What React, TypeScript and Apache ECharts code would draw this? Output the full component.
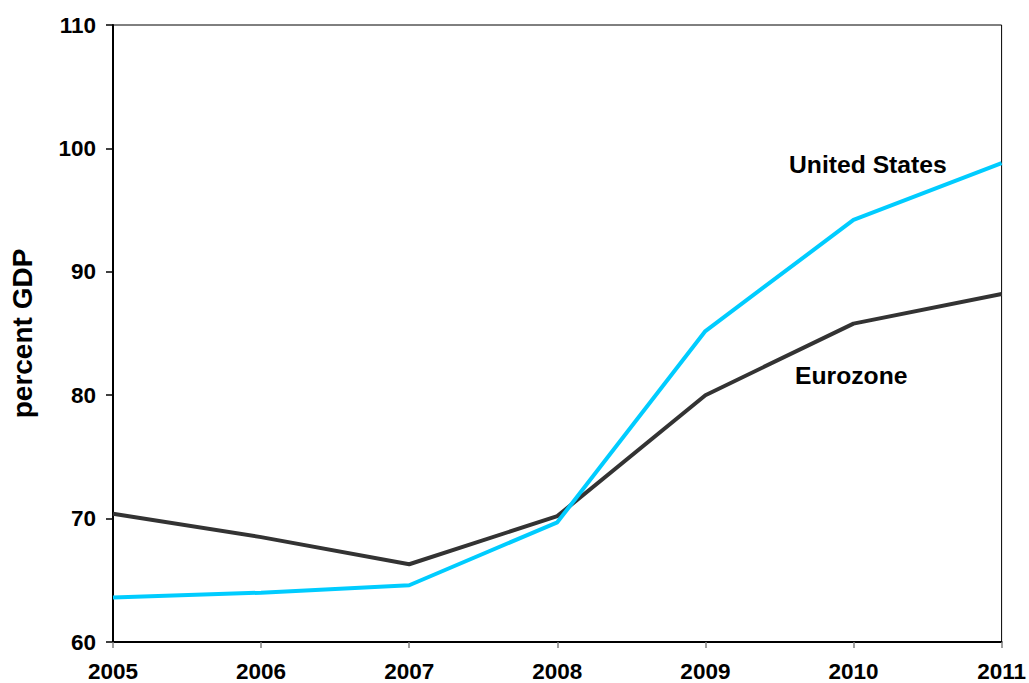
import React, { useEffect, useRef } from "react";
import * as echarts from "echarts";

const years = ["2005", "2006", "2007", "2008", "2009", "2010", "2011"];
const unitedStates = [63.6, 64.0, 64.6, 69.7, 85.2, 94.2, 98.8];
const eurozone = [70.4, 68.5, 66.3, 70.2, 80.0, 85.8, 88.2];
const yTicks = { min: 60, max: 110, interval: 10 };

const FONT = "'Liberation Sans', Arial, sans-serif";

export default function App() {
  const ref = useRef<HTMLDivElement>(null);
  useEffect(() => {
    if (!ref.current) return;
    const chart = echarts.init(ref.current, undefined, { renderer: "svg" });
    chart.setOption({
      animation: false,
      backgroundColor: "#ffffff",
      grid: {
        left: 111,
        right: 25,
        top: 25,
        bottom: 40,
        show: true,
        borderColor: "#000000",
        borderWidth: 1,
        backgroundColor: "transparent",
      },
      xAxis: {
        type: "category",
        data: years,
        boundaryGap: false,
        axisLine: { show: true, lineStyle: { color: "#000000", width: 2 } },
        axisTick: { show: true, length: 6, lineStyle: { color: "#808080", width: 1.5 } },
        axisLabel: {
          color: "#000000",
          fontFamily: FONT,
          fontWeight: "bold",
          fontSize: 22.5,
          margin: 18,
        },
        splitLine: { show: false },
      },
      yAxis: {
        type: "value",
        min: yTicks.min,
        max: yTicks.max,
        interval: yTicks.interval,
        name: "percent GDP",
        nameLocation: "middle",
        nameGap: 77,
        nameRotate: 90,
        nameTextStyle: {
          color: "#000000",
          fontFamily: FONT,
          fontWeight: "bold",
          fontSize: 28,
        },
        axisLine: { show: true, lineStyle: { color: "#000000", width: 2 } },
        axisTick: { show: true, length: 7, lineStyle: { color: "#000000", width: 1.5 } },
        axisLabel: {
          color: "#000000",
          fontFamily: FONT,
          fontWeight: "bold",
          fontSize: 22.5,
          margin: 17,
        },
        splitLine: { show: false },
      },
      series: [
        {
          name: "Eurozone",
          type: "line",
          data: eurozone,
          symbol: "none",
          lineStyle: { color: "#333333", width: 4 },
          z: 3,
        },
        {
          name: "United States",
          type: "line",
          data: unitedStates,
          symbol: "none",
          lineStyle: { color: "#00CCFF", width: 4 },
          z: 4,
        },
      ],
      graphic: [
        {
          type: "text",
          left: 789,
          top: 152,
          style: {
            text: "United States",
            fill: "#000000",
            font: `bold 24.7px ${FONT}`,
          },
        },
        {
          type: "text",
          left: 795,
          top: 363,
          style: {
            text: "Eurozone",
            fill: "#000000",
            font: `bold 24.7px ${FONT}`,
          },
        },
      ],
    });
    return () => chart.dispose();
  }, []);
  return (
    <div
      ref={ref}
      style={{ position: "fixed", left: 0, top: 0, width: 1029, height: 683 }}
    />
  );
}
